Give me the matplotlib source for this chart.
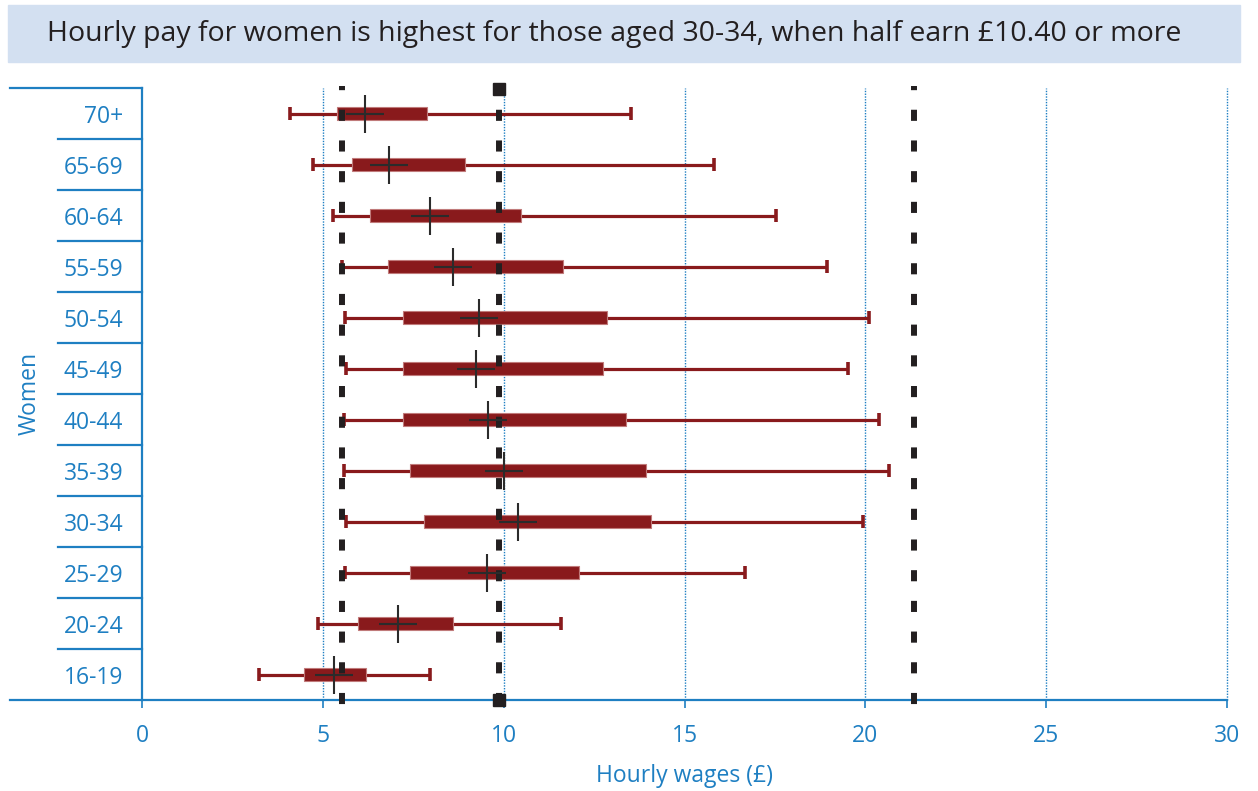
import matplotlib
matplotlib.use("Agg")
import matplotlib.pyplot as plt
from matplotlib.patches import Rectangle
import numpy as np

plt.rcParams['font.family'] = ['Open Sans', 'DejaVu Sans']
plt.rcParams['lines.scale_dashes'] = False

# hourly pay percentiles by age group (women), bottom to top
ages = ['16-19', '20-24', '25-29', '30-34', '35-39', '40-44',
        '45-49', '50-54', '55-59', '60-64', '65-69', '70+']
p10 = [3.24, 4.86, 5.62, 5.64, 5.59, 5.59, 5.64, 5.62, 5.54, 5.27, 4.74, 4.09]
p25 = [4.48, 5.96, 7.41, 7.80, 7.41, 7.22, 7.21, 7.21, 6.81, 6.30, 5.80, 5.38]
median = [5.30, 7.07, 9.53, 10.40, 10.01, 9.56, 9.24, 9.31, 8.61, 7.96, 6.83, 6.17]
p75 = [6.19, 8.59, 12.08, 14.07, 13.94, 13.37, 12.74, 12.86, 11.65, 10.47, 8.94, 7.89]
p90 = [7.96, 11.58, 16.68, 19.93, 20.66, 20.38, 19.53, 20.09, 18.95, 17.53, 15.82, 13.52]

# all-employee reference lines (10th, median, 90th)
ref_lines = [5.53, 9.87, 21.34]
xticks = [0, 5, 10, 15, 20, 25, 30]

blue = '#1e7fc2'
red = '#891a1c'
dark = '#231f20'

fig = plt.figure(figsize=(12.58, 7.91), dpi=100)
ax = fig.add_axes([0.1129, 0.1150, 0.8625, 0.7737])

# title banner
fig.patches.append(Rectangle((8 / 1258, 1 - 62 / 791), 1232 / 1258, 57 / 791,
                             transform=fig.transFigure, color='#d3e0f1', zorder=0))
fig.text(47 / 1258, 1 - 34 / 791,
         'Hourly pay for women is highest for those aged 30-34, when half earn £10.40 or more',
         fontsize=20.5, color=dark, va='center', ha='left')

y = np.arange(len(ages))

# dotted grid
ax.vlines(xticks[1:], -0.5, 11.5, colors=blue, linestyles=(0, (1, 1)), lw=1.0,
          zorder=1, clip_on=False)

# whiskers and caps
ax.hlines(y, p10, p90, colors=red, lw=2.3, zorder=2)
ax.vlines(p10, y - 0.12, y + 0.12, colors=red, lw=2.6, zorder=2)
ax.vlines(p90, y - 0.12, y + 0.12, colors=red, lw=2.6, zorder=2)

# boxes
ax.barh(y, np.array(p75) - np.array(p25), left=p25, height=0.26,
        color=red, edgecolor='#c07a7a', lw=0.8, zorder=3)

# reference dashed lines
for v in ref_lines:
    ax.plot([v, v], [11.54, -0.62], color=dark, lw=4.3,
            linestyle=(5.0, (8.0, 14.1)), solid_capstyle='butt',
            clip_on=False, zorder=5)
ax.plot([ref_lines[1]], [11.48], marker='s', ms=9, color=dark, clip_on=False, zorder=5)
ax.plot([ref_lines[1]], [-0.5], marker='s', ms=9, color=dark, clip_on=False, zorder=5)

# medians
ax.plot(median, y, linestyle='none', marker='+', ms=27, mew=1.5, color='#2b2b2b', zorder=6)

ax.set_xlim(0, 30)
ax.set_ylim(-0.5, 11.5)
ax.set_xticks(xticks)
ax.set_yticks(y)
ax.set_yticklabels(ages)

for s in ['top', 'right', 'bottom']:
    ax.spines[s].set_visible(False)
ax.spines['left'].set_color(blue)
ax.spines['left'].set_linewidth(1.6)

ax.tick_params(axis='x', colors=blue, length=6, width=1.2, pad=11, labelsize=16.5,
               direction='out')
ax.tick_params(axis='y', colors=blue, length=0, pad=13.5, labelsize=16.5)

# bottom axis line reaching out to the left
ax.plot([-0.1217, 1.0], [0, 0], transform=ax.transAxes, color=blue, lw=1.6,
        clip_on=False, zorder=4)
# row separators on the category side
yt = ax.get_yaxis_transform()
for b in np.arange(0.5, 11.0, 1.0):
    ax.plot([-0.0774, 0], [b, b], transform=yt, color=blue, lw=1.6, clip_on=False)
ax.plot([-0.1217, 0], [11.5, 11.5], transform=yt, color=blue, lw=1.6, clip_on=False)

ax.set_xlabel('Hourly wages (£)', fontsize=16.5, color=blue, labelpad=12)
fig.text(30 / 1258, 1 - 393 / 791, 'Women', rotation=90, fontsize=16.5,
         color=blue, ha='center', va='center')

fig.savefig('out.png', dpi=100)
